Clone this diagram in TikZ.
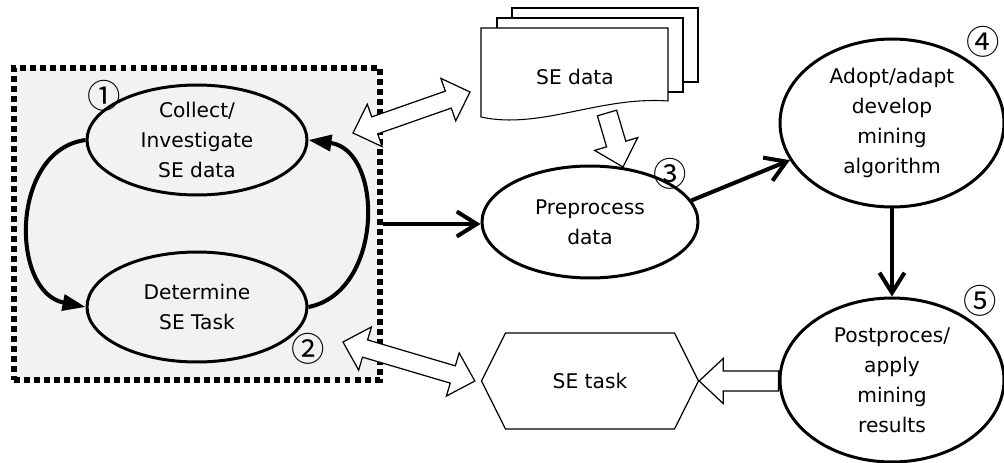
\documentclass[tikz,border=0pt]{standalone}
\usepackage{fontspec}
\setmainfont{DejaVu Sans}
\newfontfamily\circfont{Noto Sans CJK JP}
\usetikzlibrary{arrows.meta}
\usetikzlibrary{calc}
\usetikzlibrary{shapes.geometric}
\usetikzlibrary{shapes.symbols}

% hollow block arrows between two named points
\newcommand{\hollowarrow}[2]{%
  \coordinate (ha) at ($(#2)!0.48cm!(#1)$);
  \draw[blockarrow] ($(#1)!0.2cm!90:(#2)$) -- ($(ha)!0.2cm!90:(#2)$) -- ($(ha)!0.45cm!90:(#2)$) -- (#2)
    -- ($(ha)!0.45cm!-90:(#2)$) -- ($(ha)!0.2cm!-90:(#2)$) -- ($(#1)!0.2cm!-90:(#2)$) -- cycle;}
\newcommand{\hollowdblarrow}[2]{%
  \coordinate (ha) at ($(#1)!0.46cm!(#2)$);
  \coordinate (hb) at ($(#2)!0.46cm!(#1)$);
  \draw[blockarrow] (#1) -- ($(ha)!0.45cm!90:(#2)$) -- ($(ha)!0.18cm!90:(#2)$) -- ($(hb)!0.18cm!90:(#2)$) -- ($(hb)!0.45cm!90:(#2)$) -- (#2)
    -- ($(hb)!0.45cm!-90:(#2)$) -- ($(hb)!0.18cm!-90:(#2)$) -- ($(ha)!0.18cm!-90:(#2)$) -- ($(ha)!0.45cm!-90:(#2)$) -- cycle;}

\begin{document}
\begin{tikzpicture}[x=0.02cm,y=-0.02cm,
    every node/.style={font=\fontsize{11.5}{17}\selectfont},
    step ellipse/.style={ellipse,draw,line width=1.7pt,inner sep=0pt,align=center},
    num/.style={font=\circfont\fontsize{19}{19}\selectfont,inner sep=0pt},
    loop arrow/.style={line width=2.3pt,-{Triangle[length=4.6mm,width=3.2mm]}},
    flow arrow/.style={line width=2.3pt,-{Straight Barb[length=4mm,width=5mm]}},
    blockarrow/.style={draw,fill=white,line width=0.7pt,line join=miter},
    doc/.style={draw,fill=white,line width=0.6pt}]
    \useasboundingbox (0,0) rectangle (1004,463);

    % dashed cycle box
    \node[draw,fill={rgb,255:red,242;green,242;blue,242},line width=3.4pt,dash pattern=on 3.4pt off 2.3pt,
          minimum width=7.32cm,minimum height=6.24cm] (box) at (197,224) {};
    \node[step ellipse,minimum width=4.4cm,minimum height=2.2cm] (collect) at (197,140) {Collect/\\Investigate\\SE data};
    \node[step ellipse,minimum width=4.4cm,minimum height=2.2cm] (determine) at (197,307) {Determine\\SE Task};
    \node[num] (n1) at (104,96) {①};
    \node[num] (n2) at (308,349) {②};
    \draw[loop arrow] (collect.west) .. controls (10,150) and (10,292) .. (determine.west);
    \draw[loop arrow] (determine.east) .. controls (384,292) and (384,150) .. (collect.east);

    % SE data documents
    \draw[doc] (512,8) rectangle (698,82);
    \draw[doc] (497,18) rectangle (683,92);
    \draw[doc] (481,28) -- (668,28) -- (668,101) .. controls (600,96) and (540,130) .. (481,117) -- cycle;
    \node (data) at (575,77) {SE data};

    % processing steps
    \node[step ellipse,minimum width=4.32cm,minimum height=2.24cm] (prep) at (590,222) {Preprocess\\data};
    \node[step ellipse,minimum width=4.48cm,minimum height=3.36cm] (adopt) at (892,123) {Adopt/adapt\\develop\\mining\\algorithm};
    \node[step ellipse,minimum width=4.48cm,minimum height=3.28cm] (post) at (892,380) {Postproces/\\apply\\mining\\results};
    \node[num] (n3) at (670,174) {③};
    \node[num] (n4) at (983,42) {④};
    \node[num] (n5) at (980,301) {⑤};

    \node[signal,signal to=west and east,signal pointer angle=127,draw,line width=0.7pt,
          minimum width=4.34cm,minimum height=1.92cm] (task) at (590,381) {SE task};

    \draw[flow arrow] (box.east) -- (box.east -| prep.west);
    \draw[flow arrow] (prep.12) -- (adopt.200);
    \draw[flow arrow] (adopt.south) -- (post.north);

    % block arrows
    \coordinate (in1) at (353,133);
    \coordinate (out1) at (470,92);
    \hollowdblarrow{in1}{out1}
    \coordinate (datafoot) at (607,113);
    \coordinate (preptop) at (623,167);
    \hollowarrow{datafoot}{preptop}
    \coordinate (in2) at (343,342);
    \coordinate (out2) at ($(task.west)+(-6,0)$);
    \hollowdblarrow{in2}{out2}
    \coordinate (postleft) at (post.west |- task.east);
    \hollowarrow{postleft}{task.east}
\end{tikzpicture}
\end{document}
